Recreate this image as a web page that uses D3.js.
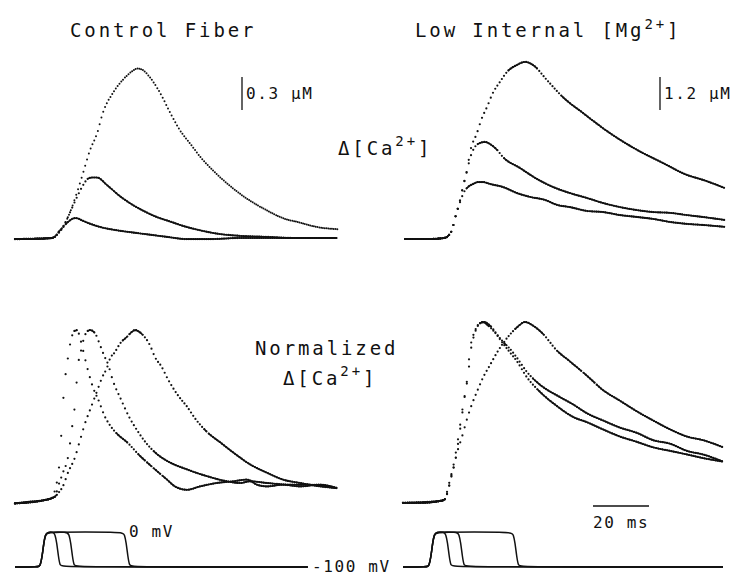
<!DOCTYPE html>
<html>
<head>
<meta charset="utf-8">
<script src="https://cdn.jsdelivr.net/npm/d3@7"></script>
<style>
  body { margin: 0; background: #fff; }
  text { font-family: "DejaVu Sans Mono", monospace; fill: #111; }
</style>
</head>
<body>
<div id="fig"></div>
<script>
// traces. time in ms from start of sweep
// top row = delta [Ca2+] in uM, bottom row = normalized to peak, pulses in mV

// control fiber, three pulse durations
var ctlBig = [[0,-0.01],[8.9,-0.01],[13.2,0],[14.6,0.02],[15.4,0.05],[17.1,0.10],[19.6,0.23],[22.1,0.41],[24.3,0.59],[26.8,0.80],[29.3,0.95],[31.4,1.14],[35.0,1.32],[38.6,1.44],[42.1,1.52],[43.6,1.54],[45.4,1.53],[48.2,1.46],[51.8,1.32],[55.4,1.14],[58.9,0.98],[62.5,0.86],[66.1,0.74],[72.1,0.58],[77.9,0.45],[83.9,0.34],[90.0,0.25],[95.7,0.18],[101.8,0.14],[107.9,0.10],[115.4,0.08]];
var ctlMid = [[0,-0.01],[13.2,0],[14.6,0.02],[15.4,0.05],[17.1,0.10],[19.6,0.23],[22.1,0.37],[24.3,0.48],[26.1,0.54],[27.5,0.55],[29.3,0.55],[32.9,0.48],[37.5,0.38],[42.1,0.30],[46.4,0.24],[50.7,0.19],[55.4,0.15],[60.0,0.11],[66.1,0.07],[72.1,0.04],[80.0,0.02],[90.0,0.01],[100.0,0],[115.4,0]];
var ctlSmall = [[0,-0.01],[13.2,0],[14.6,0.02],[16.1,0.06],[17.9,0.12],[19.6,0.16],[21.1,0.18],[22.1,0.18],[23.9,0.16],[26.8,0.13],[30.4,0.10],[36.4,0.07],[42.1,0.05],[48.2,0.03],[54.3,0.01],[61.4,-0.01],[69.6,-0.01],[80.4,0],[115.4,0]];

// low internal Mg
var lowBig = [[0.7,0],[9.6,0],[15.0,0.04],[16.1,0.11],[17.5,0.33],[18.6,0.76],[20.4,1.42],[21.4,1.89],[22.9,2.51],[23.9,3.13],[26.4,3.85],[28.2,4.40],[30.0,4.80],[32.1,5.31],[34.6,5.71],[37.1,6.07],[40.7,6.33],[43.6,6.44],[46.4,6.33],[51.4,5.78],[57.1,5.16],[64.3,4.58],[73.9,3.85],[83.6,3.24],[92.9,2.76],[101.4,2.33],[107.1,2.15],[115.0,1.85]];
var lowMid = [[0.7,0],[9.6,0],[15.0,0.04],[16.1,0.11],[17.5,0.33],[18.6,0.76],[20.4,1.42],[21.4,1.89],[22.9,2.51],[24.3,3.05],[25.7,3.35],[27.5,3.49],[29.3,3.53],[31.1,3.45],[33.6,3.24],[35.7,2.98],[41.8,2.58],[47.9,2.18],[53.6,1.89],[59.6,1.67],[65.7,1.49],[71.4,1.31],[77.5,1.16],[83.6,1.05],[89.3,0.98],[95.4,0.95],[101.4,0.87],[107.1,0.80],[115.0,0.69]];
var lowSmall = [[0.7,0],[9.6,0],[15.0,0.04],[16.1,0.11],[17.5,0.33],[18.6,0.76],[20.4,1.35],[21.8,1.71],[23.2,1.89],[25.0,2.0],[26.8,2.07],[28.6,2.07],[31.1,2.0],[35.7,1.89],[40.7,1.67],[45.4,1.53],[50.7,1.42],[55.0,1.24],[59.6,1.16],[65.7,1.02],[71.4,0.98],[77.5,0.87],[83.6,0.80],[89.3,0.73],[95.4,0.62],[101.4,0.55],[107.1,0.51],[115.0,0.44]];

// normalized, control
var ctlNormFast = [[0,-0.02],[5.4,-0.01],[10.7,0],[13.2,0.01],[14.3,0.06],[15.4,0.15],[16.1,0.26],[16.8,0.47],[17.5,0.65],[18.6,0.80],[19.6,0.91],[20.7,0.98],[21.8,1.0],[22.5,0.99],[23.6,0.93],[24.6,0.86],[26.1,0.76],[27.9,0.66],[30.0,0.58],[32.1,0.49],[33.9,0.44],[36.4,0.39],[40.0,0.34],[44.6,0.26],[49.3,0.19],[54.3,0.12],[57.1,0.08],[61.4,0.06],[66.1,0.08],[72.1,0.10],[77.9,0.11],[82.9,0.12],[86.4,0.09],[90.0,0.08],[95.7,0.09],[101.8,0.08],[108.9,0.09],[115.0,0.07]];
var ctlNormMid = [[0,-0.02],[10.7,0],[14.3,0.02],[15.4,0.08],[17.1,0.16],[18.9,0.25],[20.4,0.43],[21.4,0.56],[22.5,0.79],[23.6,0.88],[24.6,0.95],[25.7,0.99],[26.8,1.0],[28.6,0.98],[30.4,0.91],[31.8,0.85],[33.2,0.80],[35.0,0.70],[37.9,0.59],[40.7,0.49],[43.6,0.41],[47.1,0.33],[50.7,0.27],[54.3,0.23],[61.4,0.18],[68.6,0.14],[75.7,0.11],[80.4,0.10],[83.9,0.11],[90.0,0.10],[98.2,0.09],[105.4,0.09],[115.0,0.07]];
var ctlNormSlow = [[0,-0.02],[10.7,0],[14.3,0.02],[15.4,0.04],[17.1,0.08],[18.9,0.16],[21.4,0.25],[23.2,0.35],[25.0,0.45],[26.8,0.53],[29.3,0.64],[31.1,0.72],[32.9,0.78],[33.9,0.83],[35.7,0.87],[37.5,0.92],[40.0,0.96],[41.8,0.99],[42.9,1.0],[44.3,0.99],[45.7,0.97],[48.2,0.91],[50.0,0.84],[52.5,0.78],[54.3,0.72],[56.4,0.66],[58.9,0.60],[61.4,0.55],[64.3,0.48],[68.6,0.40],[73.2,0.34],[77.9,0.28],[83.9,0.21],[90.0,0.16],[95.7,0.12],[101.8,0.10],[108.9,0.08],[115.0,0.07]];

// normalized, low Mg
var lowNormFast = [[0,-0.01],[6.1,-0.01],[13.2,0],[15.0,0.01],[15.7,0.05],[16.8,0.12],[17.9,0.19],[19.6,0.34],[21.4,0.53],[22.9,0.68],[23.9,0.84],[25.4,0.94],[26.8,0.98],[28.6,1.0],[30.4,0.98],[32.9,0.94],[35.7,0.88],[38.2,0.83],[40.7,0.78],[44.3,0.69],[48.9,0.61],[55.0,0.53],[60.7,0.47],[65.7,0.44],[71.4,0.40],[77.5,0.36],[83.6,0.33],[89.3,0.30],[95.4,0.28],[101.4,0.26],[107.1,0.24],[114.3,0.22]];
var lowNormMid = [[0,-0.01],[6.1,-0.01],[13.2,0],[15.0,0.01],[16.1,0.06],[17.1,0.13],[18.6,0.22],[20.4,0.40],[21.8,0.56],[23.2,0.70],[24.3,0.85],[25.7,0.94],[27.1,0.99],[28.9,1.0],[31.1,0.98],[33.6,0.93],[35.7,0.89],[38.2,0.85],[40.7,0.80],[44.3,0.72],[48.9,0.65],[56.1,0.58],[60.7,0.54],[65.7,0.49],[71.4,0.45],[77.5,0.41],[83.6,0.38],[89.3,0.34],[95.4,0.32],[101.4,0.28],[107.1,0.26],[114.3,0.22]];
var lowNormSlow = [[0,-0.01],[13.2,0],[15.0,0.01],[15.7,0.04],[17.5,0.15],[19.3,0.27],[21.1,0.36],[22.9,0.46],[24.6,0.54],[26.4,0.61],[28.6,0.69],[31.1,0.76],[33.6,0.83],[35.7,0.88],[38.2,0.93],[40.7,0.97],[43.6,1.0],[46.4,0.98],[49.6,0.94],[55.0,0.84],[59.6,0.78],[65.7,0.70],[71.4,0.62],[77.5,0.56],[83.6,0.50],[89.3,0.45],[95.4,0.40],[101.4,0.36],[107.1,0.34],[114.3,0.30]];

// voltage pulses, -100 mV holding to 0 mV
var ctlPulseShort = [[0,-100],[8.4,-100],[9.0,-97],[9.7,-70],[10.3,-30],[10.9,-6],[11.8,0],[13.6,0],[14.3,-6],[14.9,-30],[15.5,-70],[16.1,-97],[16.8,-100],[104.6,-100]];
var ctlPulseMid = [[0,-100],[8.4,-100],[9.0,-97],[9.7,-70],[10.3,-30],[10.9,-6],[11.8,0],[18.6,0],[19.3,-6],[19.9,-30],[20.5,-70],[21.1,-97],[21.8,-100],[104.6,-100]];
var ctlPulseLong = [[0,-100],[8.4,-100],[9.0,-97],[9.7,-70],[10.3,-30],[10.9,-6],[11.8,0],[38.4,0],[39.1,-6],[39.7,-30],[40.3,-70],[40.9,-97],[41.6,-100],[104.6,-100]];
var lowPulseShort = [[0,-100],[8.7,-100],[9.3,-97],[10.0,-70],[10.6,-30],[11.2,-6],[12.1,0],[14.6,0],[15.3,-6],[15.9,-30],[16.5,-70],[17.1,-97],[17.8,-100],[114.3,-100]];
var lowPulseMid = [[0,-100],[8.7,-100],[9.3,-97],[10.0,-70],[10.6,-30],[11.2,-6],[12.1,0],[19.3,0],[20.0,-6],[20.6,-30],[21.2,-70],[21.8,-97],[22.5,-100],[114.3,-100]];
var lowPulseLong = [[0,-100],[8.7,-100],[9.3,-97],[10.0,-70],[10.6,-30],[11.2,-6],[12.1,0],[38.7,0],[39.4,-6],[40.0,-30],[40.6,-70],[41.2,-97],[41.9,-100],[114.3,-100]];

var width = 733;
var height = 576;
var ink = "#111";

var svg = d3
  .select("#fig")
  .append("svg")
  .attr("width", width)
  .attr("height", height);

svg.append("rect").attr("width", width).attr("height", height).attr("fill", "#fff");

// scales, 2.8 px per ms on both sides
var xLeft = d3.scaleLinear().domain([0, 115]).range([15, 337]);
var xRight = d3.scaleLinear().domain([0, 115]).range([403, 725]);

var yCtl = d3.scaleLinear().domain([0, 1]).range([238, 128]);      // uM
var yLow = d3.scaleLinear().domain([0, 1]).range([239, 211.5]);    // uM
var yCtlNorm = d3.scaleLinear().domain([0, 1]).range([500, 330]);
var yLowNorm = d3.scaleLinear().domain([0, 1]).range([501, 322]);
var yVolt = d3.scaleLinear().domain([-100, 0]).range([567, 532]);

// the traces were plotted as samples, so walk the curve and drop a point every few px.
// neighbours that are close get joined (looks solid), steep parts stay as loose dots
function drawTrace(data, xs, ys, dotsOnly) {
  var step = dotsOnly ? 1.8 : 2.2;
  var line = d3.line()
    .x(function(d) { return xs(d[0]); })
    .y(function(d) { return ys(d[1]); })
    .curve(d3.curveMonotoneX);
  var tmp = svg.append("path").attr("d", line(data)).attr("fill", "none");
  var node = tmp.node();
  var len = node.getTotalLength();
  var pts = [];
  var nx = xs(data[0][0]);
  for (var s = 0; s <= len; s += 0.2) {
    var p = node.getPointAtLength(s);
    if (p.x >= nx) {
      pts.push([p.x, p.y]);
      nx += step;
    }
  }
  tmp.remove();

  var g = svg.append("g");
  if (!dotsOnly) {
    var d = "";
    for (var i = 1; i < pts.length; i++) {
      var dx = pts[i][0] - pts[i - 1][0];
      var dy = pts[i][1] - pts[i - 1][1];
      if (Math.sqrt(dx * dx + dy * dy) < 3.0) {
        d += "M" + pts[i - 1][0] + "," + pts[i - 1][1] + "L" + pts[i][0] + "," + pts[i][1];
      }
    }
    g.append("path").attr("d", d).attr("fill", "none").attr("stroke", ink)
      .attr("stroke-width", 1.6).attr("stroke-linecap", "round");
  }
  g.selectAll("circle")
    .data(pts)
    .enter()
    .append("circle")
    .attr("cx", function(d) { return d[0]; })
    .attr("cy", function(d) { return d[1]; })
    .attr("r", dotsOnly ? 1.0 : 1.1)
    .attr("fill", ink);
}

function drawPulse(data, xs) {
  var line = d3.line()
    .x(function(d) { return xs(d[0]); })
    .y(function(d) { return yVolt(d[1]); })
    .curve(d3.curveBasis);
  svg.append("path")
    .attr("d", line(data))
    .attr("fill", "none")
    .attr("stroke", ink)
    .attr("stroke-width", 1.5);
}

// top row
drawTrace(ctlBig, xLeft, yCtl, true);
drawTrace(ctlMid, xLeft, yCtl, false);
drawTrace(ctlSmall, xLeft, yCtl, false);
drawTrace(lowBig, xRight, yLow, false);
drawTrace(lowMid, xRight, yLow, false);
drawTrace(lowSmall, xRight, yLow, false);

// bottom row
drawTrace(ctlNormFast, xLeft, yCtlNorm, false);
drawTrace(ctlNormMid, xLeft, yCtlNorm, false);
drawTrace(ctlNormSlow, xLeft, yCtlNorm, false);
drawTrace(lowNormFast, xRight, yLowNorm, false);
drawTrace(lowNormMid, xRight, yLowNorm, false);
drawTrace(lowNormSlow, xRight, yLowNorm, false);

// pulses
[ctlPulseShort, ctlPulseMid, ctlPulseLong].forEach(function(p) { drawPulse(p, xLeft); });
[lowPulseShort, lowPulseMid, lowPulseLong].forEach(function(p) { drawPulse(p, xRight); });

// calibration bars: 0.3 uM, 1.2 uM hung from y=77, and 20 ms
var barTop = 77;
svg.append("line").attr("x1", 242).attr("x2", 242)
  .attr("y1", barTop).attr("y2", barTop + (yCtl(0) - yCtl(0.3)))
  .attr("stroke", ink).attr("stroke-width", 1.3);
svg.append("line").attr("x1", 660).attr("x2", 660)
  .attr("y1", barTop).attr("y2", barTop + (yLow(0) - yLow(1.2)))
  .attr("stroke", ink).attr("stroke-width", 1.3);
svg.append("line").attr("x1", 593).attr("x2", 593 + (xRight(20) - xRight(0)))
  .attr("y1", 506).attr("y2", 506)
  .attr("stroke", ink).attr("stroke-width", 1.4);

// labels
function label(x, y, size, ls, parts) {
  var t = svg.append("text").attr("x", x).attr("y", y)
    .attr("font-size", size).attr("letter-spacing", ls);
  parts.forEach(function(p) {
    var s = t.append("tspan").text(p[0]);
    if (p[1]) s.attr("dy", p[1]);
    if (p[2]) s.attr("font-size", p[2]);
  });
  return t;
}

label(70, 37, 19, 2.9, [["Control Fiber"]]);
label(415, 37, 19, 2.9, [["Low Internal [Mg"], ["2+", -8, 14], ["]", 8]]);
label(246, 99, 16, 1.6, [["0.3 \u03bcM"]]);
label(664, 99, 16, 1.6, [["1.2 \u03bcM"]]);
label(338, 155, 19, 2.9, [["\u0394[Ca"], ["2+", -9, 14], ["]", 9]]);
label(255, 355, 19, 2.9, [["Normalized"]]);
label(283, 385, 19, 2.9, [["\u0394[Ca"], ["2+", -9, 14], ["]", 9]]);
label(129, 537, 16, 1.6, [["0 mV"]]);
label(312, 572, 16, 1.6, [["-100 mV"]]);
label(593, 528, 16, 1.6, [["20 ms"]]);
</script>
</body>
</html>
